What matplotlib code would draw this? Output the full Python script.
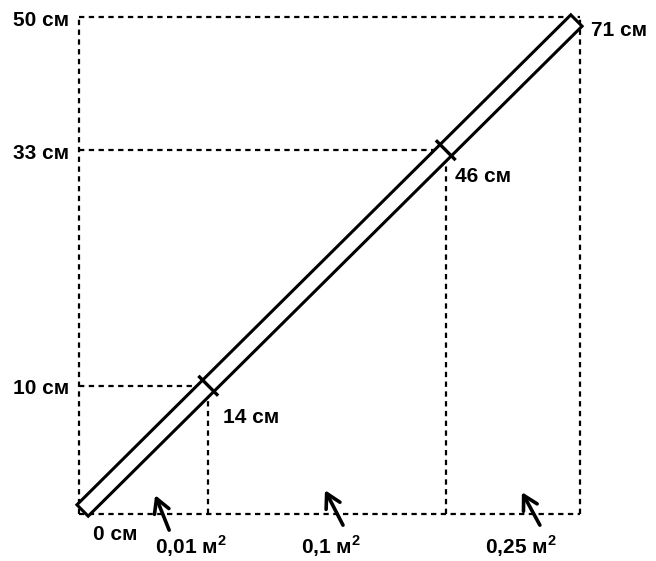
import numpy as np
import matplotlib
matplotlib.use("Agg")
import matplotlib.pyplot as plt
from matplotlib.patches import Polygon

# ---- data ----
heights_cm = [0, 10, 33, 50]          # vertical levels (left labels)
ruler_cm = [0, 14, 46, 71]            # lengths marked along the ruler
area_values = ["0,01", "0,1", "0,25"] # areas, м²

# ---- layout (schematic, not to scale) ----
anchor_in = [-100, 0, 10, 33, 50, 150]
anchor_out = [-100, 0, 12.9, 36.6, 50, 150]
ruler_label_offsets = [(14, -21), (15, -32), (9, -26), (11, -13)]   # pixels
area_label_x = [0.2236, 0.503, 0.882]      # axes fraction
arrow_heads = [(0.152, 0.038), (0.491, 0.048), (0.884, 0.044)]
arrow_tails = [(14, -35), (18, -35), (18, -33)]                    # pixels from head

def fwd(v):
    return np.interp(np.asarray(v, float), anchor_in, anchor_out)

def inv(v):
    return np.interp(np.asarray(v, float), anchor_out, anchor_in)

plt.rcParams['font.family'] = ['Liberation Sans', 'DejaVu Sans']
plt.rcParams['mathtext.fontset'] = 'custom'
plt.rcParams['mathtext.rm'] = 'Liberation Sans:bold'
plt.rcParams['mathtext.bf'] = 'Liberation Sans:bold'
FS = 15

fig = plt.figure(figsize=(6.56, 5.61), dpi=100)
ax = fig.add_axes([79 / 656, 47 / 561, 501 / 656, 497 / 561])
ax.set_xscale('function', functions=(fwd, inv))
ax.set_yscale('function', functions=(fwd, inv))
top = max(heights_cm)
ax.set_xlim(0, top)
ax.set_ylim(0, top)
ax.axis('off')

dot = dict(color='black', lw=1.6, ls=(0, (2.4, 2.0)), zorder=2, clip_on=False)
# frame lines
ax.plot([0, 0], [0, top], **dot)
ax.plot([0, top], [0, 0], **dot)
# projection lines from each mark
for h in heights_cm[1:]:
    ax.plot([0, h], [h, h], **dot)
    ax.plot([h, h], [0, h], **dot)

# ---- ruler strip ----
T = ax.transData
p0 = T.transform((0, 0))
p1 = T.transform((top, top))
u = (p1 - p0) / np.hypot(*(p1 - p0))
n = np.array([-u[1], u[0]])
shrink, half_w = 5, 8
a = p0 + shrink * u
b = p1 - shrink * u
corners = np.array([a + half_w * n, b + half_w * n, b - half_w * n, a - half_w * n])
ax.add_patch(Polygon(T.inverted().transform(corners), closed=True,
                     fc='white', ec='black', lw=2.2, zorder=3, clip_on=False,
                     joinstyle='miter'))

# cross ticks on ruler
tick_half = 14
for h in heights_cm[1:-1]:
    c = T.transform((h, h))
    seg = np.array([c + tick_half * n, c - tick_half * n])
    d = T.inverted().transform(seg)
    ax.plot(d[:, 0], d[:, 1], color='black', lw=2.4, zorder=4,
            solid_capstyle='butt', clip_on=False)

# ---- labels ----
for h in heights_cm[1:]:
    ax.annotate(f"{h} см", xy=(0, h), xytext=(-10, -3), textcoords='offset pixels',
                ha='right', va='center', fontsize=FS, fontweight='bold')

for h, L, off in zip(heights_cm, ruler_cm, ruler_label_offsets):
    ax.annotate(f"{L} см", xy=(h, h), xytext=off, textcoords='offset pixels',
                ha='left', va='center', fontsize=FS, fontweight='bold')

for val, xf in zip(area_values, area_label_x):
    ax.annotate(val + " м$^{2}$", xy=(xf, 0), xycoords='axes fraction', xytext=(0, -32),
                textcoords='offset pixels', ha='center', va='center',
                fontsize=FS, fontweight='bold')

for head, tail in zip(arrow_heads, arrow_tails):
    ax.annotate('', xy=head, xycoords='axes fraction', xytext=tail,
                textcoords='offset pixels',
                arrowprops=dict(arrowstyle='->,head_length=0.5,head_width=0.28',
                                lw=2.6, color='black', shrinkA=0, shrinkB=0,
                                mutation_scale=20))

fig.savefig('out.png', dpi=100, facecolor='white')
